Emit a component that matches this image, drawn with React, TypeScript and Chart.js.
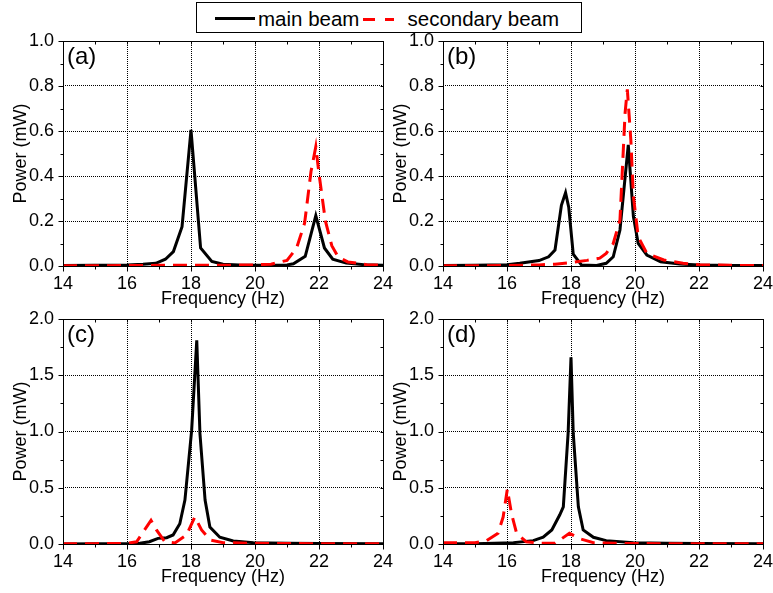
import React, { useEffect, useRef } from 'react';
import { Chart, registerables } from 'chart.js';

Chart.register(...registerables);

const FONT = "'Liberation Sans', Arial, Helvetica, sans-serif";

// ---- axis ticks ----
const freqTicks = [14, 16, 18, 20, 22, 24];
const freqMinorTicks = [15, 17, 19, 21, 23];
const powerTicksTop = [0, 0.2, 0.4, 0.6, 0.8, 1.0];
const powerTicksBottom = [0, 0.5, 1.0, 1.5, 2.0];

const seriesNames = ['main beam', 'secondary beam'];
const panelLabels = ['(a)', '(b)', '(c)', '(d)'];

// ---- panel (a) ----
const aMainFreq = [14, 15, 16, 16.5, 16.9, 17.2, 17.45, 17.72, 18.0, 18.3, 18.65, 19.0, 19.5, 20, 20.5, 21, 21.2, 21.57, 21.9, 22.17, 22.43, 22.85, 23.4, 24];
const aMainPower = [0.002, 0.003, 0.005, 0.008, 0.012, 0.03, 0.064, 0.175, 0.605, 0.08, 0.02, 0.008, 0.004, 0.003, 0.003, 0.005, 0.01, 0.043, 0.224, 0.08, 0.03, 0.013, 0.006, 0.003];
const aSecFreq = [14, 15, 16, 16.5, 17, 17.5, 18, 18.5, 19, 19.5, 20, 20.5, 21.0, 21.3, 21.55, 21.75, 21.9, 22.0, 22.2, 22.4, 22.6, 22.9, 23.5, 24];
const aSecPower = [0.001, 0.001, 0.002, 0.002, 0.003, 0.003, 0.004, 0.003, 0.003, 0.004, 0.005, 0.008, 0.025, 0.08, 0.19, 0.42, 0.53, 0.41, 0.2, 0.09, 0.04, 0.018, 0.006, 0.003];

// ---- panel (b) ----
const bMainFreq = [14, 15, 16, 16.4, 17.0, 17.3, 17.5, 17.7, 17.83, 17.93, 18.07, 18.33, 18.8, 19.1, 19.32, 19.53, 19.79, 19.95, 20.1, 20.37, 20.8, 21.4, 22, 23, 24];
const bMainPower = [0.002, 0.003, 0.006, 0.012, 0.024, 0.041, 0.071, 0.27, 0.326, 0.26, 0.053, 0.004, 0.002, 0.012, 0.041, 0.16, 0.538, 0.22, 0.1, 0.049, 0.019, 0.009, 0.004, 0.002, 0.002];
const bSecFreq = [14, 15, 16, 17, 17.5, 18.0, 18.5, 18.9, 19.1, 19.32, 19.53, 19.69, 19.76, 19.87, 19.95, 20.1, 20.37, 20.9, 21.5, 22, 23, 24];
const bSecPower = [0.001, 0.001, 0.002, 0.005, 0.008, 0.015, 0.025, 0.035, 0.056, 0.1, 0.204, 0.68, 0.785, 0.56, 0.31, 0.13, 0.056, 0.027, 0.012, 0.006, 0.003, 0.002];

// ---- panel (c) ----
const cMainFreq = [14, 15, 16, 16.4, 16.7, 16.97, 17.24, 17.44, 17.65, 17.81, 18.02, 18.18, 18.28, 18.44, 18.59, 18.9, 19.32, 19.95, 21, 22, 24];
const cMainPower = [0.001, 0.002, 0.003, 0.006, 0.02, 0.05, 0.056, 0.08, 0.18, 0.39, 1.01, 1.81, 0.98, 0.39, 0.15, 0.06, 0.027, 0.012, 0.006, 0.004, 0.002];
const cSecFreq = [14, 15, 16, 16.3, 16.75, 16.92, 17.18, 17.5, 17.86, 18.12, 18.33, 18.6, 19.0, 20, 22, 24];
const cSecPower = [0.002, 0.003, 0.006, 0.02, 0.21, 0.125, 0.02, 0.01, 0.08, 0.24, 0.125, 0.036, 0.012, 0.006, 0.003, 0.002];

// ---- panel (d) ----
const dMainFreq = [14, 15, 16.2, 16.82, 17.13, 17.4, 17.65, 17.76, 17.91, 18.0, 18.07, 18.23, 18.38, 18.7, 19.1, 19.95, 21, 22, 24];
const dMainPower = [0.002, 0.003, 0.012, 0.03, 0.06, 0.125, 0.26, 0.33, 0.985, 1.66, 0.985, 0.33, 0.125, 0.06, 0.03, 0.012, 0.006, 0.004, 0.002];
const dSecFreq = [14, 15, 15.36, 15.72, 15.88, 16.01, 16.14, 16.3, 16.6, 17.0, 17.5, 17.95, 18.3, 18.7, 19.5, 20, 22, 24];
const dSecPower = [0.01, 0.012, 0.03, 0.095, 0.24, 0.487, 0.27, 0.095, 0.02, 0.008, 0.006, 0.095, 0.045, 0.012, 0.006, 0.004, 0.002, 0.002];

type PanelProps = {
  left: number;
  top: number;
  width: number;
  label: string;
  mainF: number[];
  mainP: number[];
  secF: number[];
  secP: number[];
  yTicks: number[];
  padRight: number;
};

const CANVAS_H = 283;

function Panel({ left, top, width, label, mainF, mainP, secF, secP, yTicks, padRight }: PanelProps) {
  const ref = useRef<HTMLCanvasElement>(null);
  useEffect(() => {
    const yMinor: number[] = [];
    for (let i = 0; i < yTicks.length - 1; i++) yMinor.push((yTicks[i] + yTicks[i + 1]) / 2);

    const framePlugin = {
      id: 'panelFrame',
      afterDraw(chart: any) {
        const { ctx, chartArea } = chart;
        const xs = chart.scales.x;
        const ys = chart.scales.y;
        const l = Math.round(chartArea.left) + 0.5;
        const r = Math.round(chartArea.right) + 0.5;
        const t = Math.round(chartArea.top) + 0.5;
        const b = Math.round(chartArea.bottom) + 0.5;
        ctx.save();
        ctx.strokeStyle = '#000';
        ctx.lineWidth = 1;
        ctx.setLineDash([]);
        ctx.strokeRect(l, t, r - l, b - t);
        ctx.beginPath();
        const xTick = (v: number, len: number) => {
          const px = Math.round(xs.getPixelForValue(v)) + 0.5;
          ctx.moveTo(px, b); ctx.lineTo(px, b + len);
          ctx.moveTo(px, t); ctx.lineTo(px, t + Math.min(len, 3));
        };
        const yTick = (v: number, len: number) => {
          const py = Math.round(ys.getPixelForValue(v)) + 0.5;
          ctx.moveTo(l, py); ctx.lineTo(l - len, py);
          ctx.moveTo(r, py); ctx.lineTo(r - Math.min(len, 3), py);
        };
        freqTicks.forEach((v) => xTick(v, 5));
        freqMinorTicks.forEach((v) => xTick(v, 3));
        yTicks.forEach((v) => yTick(v, 5));
        yMinor.forEach((v) => yTick(v, 3));
        ctx.stroke();
        ctx.fillStyle = '#000';
        ctx.font = `24px ${FONT}`;
        ctx.textBaseline = 'top';
        ctx.textAlign = 'left';
        ctx.fillText(label, chartArea.left + 4, chartArea.top + 4);
        ctx.restore();
      },
    };

    const chart = new Chart(ref.current as HTMLCanvasElement, {
      type: 'line',
      data: {
        datasets: [
          {
            label: seriesNames[1],
            data: secF.map((f, i) => ({ x: f, y: secP[i] })),
            borderColor: '#ff0000',
            borderWidth: 3,
            borderDash: [14, 8],
            pointRadius: 0,
            tension: 0,
            fill: false,
          },
          {
            label: seriesNames[0],
            data: mainF.map((f, i) => ({ x: f, y: mainP[i] })),
            borderColor: '#000000',
            borderWidth: 3,
            pointRadius: 0,
            tension: 0,
            fill: false,
          },
        ],
      },
      options: {
        animation: false,
        responsive: false,
        maintainAspectRatio: false,
        layout: { padding: { top: 11, right: padRight, left: 0, bottom: 0 } },
        plugins: { legend: { display: false }, tooltip: { enabled: false } },
        scales: {
          x: {
            type: 'linear',
            min: 14,
            max: 24,
            afterBuildTicks: (s: any) => { s.ticks = freqTicks.map((v) => ({ value: v })); },
            afterFit: (s: any) => { s.height = 47; s.paddingLeft = 0; s.paddingRight = 0; },
            grid: { color: '#000', lineWidth: 1, drawTicks: false },
            border: { display: false, dash: [1, 1] },
            ticks: {
              color: '#000',
              font: { family: FONT, size: 18 },
              padding: 7,
              maxRotation: 0,
              autoSkip: false,
              callback: (v: any) => String(v),
            },
            title: {
              display: true,
              text: 'Frequency (Hz)',
              color: '#000',
              font: { family: FONT, size: 18 },
              padding: { top: 0, bottom: 3 },
            },
          },
          y: {
            type: 'linear',
            min: 0,
            max: yTicks[yTicks.length - 1],
            afterBuildTicks: (s: any) => { s.ticks = yTicks.map((v) => ({ value: v })); },
            afterFit: (s: any) => { s.width = 63; s.paddingTop = 0; s.paddingBottom = 0; },
            grid: { color: '#000', lineWidth: 1, drawTicks: false },
            border: { display: false, dash: [1, 1] },
            ticks: {
              color: '#000',
              font: { family: FONT, size: 18 },
              padding: 9,
              autoSkip: false,
              callback: (v: any) => Number(v).toFixed(1),
            },
            title: {
              display: true,
              text: 'Power (mW)',
              color: '#000',
              font: { family: FONT, size: 18 },
              padding: { top: 10.5, bottom: 0 },
            },
          },
        },
      },
      plugins: [framePlugin],
    } as any);
    return () => chart.destroy();
  }, []);
  return (
    <canvas
      ref={ref}
      width={width}
      height={CANVAS_H}
      style={{ position: 'absolute', left, top, width, height: CANVAS_H }}
    />
  );
}

export default function App() {
  return (
    <div style={{ position: 'absolute', left: 0, top: 0, width: 773, height: 593, background: '#fff', overflow: 'hidden' }}>
      <Panel left={0} top={30} width={395} padRight={12} label={panelLabels[0]} mainF={aMainFreq} mainP={aMainPower} secF={aSecFreq} secP={aSecPower} yTicks={powerTicksTop} />
      <Panel left={380} top={30} width={393} padRight={10} label={panelLabels[1]} mainF={bMainFreq} mainP={bMainPower} secF={bSecFreq} secP={bSecPower} yTicks={powerTicksTop} />
      <Panel left={0} top={308} width={395} padRight={12} label={panelLabels[2]} mainF={cMainFreq} mainP={cMainPower} secF={cSecFreq} secP={cSecPower} yTicks={powerTicksBottom} />
      <Panel left={380} top={308} width={393} padRight={10} label={panelLabels[3]} mainF={dMainFreq} mainP={dMainPower} secF={dSecFreq} secP={dSecPower} yTicks={powerTicksBottom} />
      <svg style={{ position: 'absolute', left: 196, top: 2 }} width={386} height={31}>
        <rect x={0.5} y={0.5} width={385} height={30} fill="#fff" stroke="#000" strokeWidth={1} />
        <line x1={19} y1={16.5} x2={59} y2={16.5} stroke="#000" strokeWidth={3} />
        <text x={62} y={24} fontFamily={FONT} fontSize={20.5} fill="#000">{seriesNames[0]}</text>
        <line x1={167} y1={17.5} x2={198} y2={17.5} stroke="#ff0000" strokeWidth={3} strokeDasharray="12 10" />
        <text x={211.5} y={24} fontFamily={FONT} fontSize={20.5} fill="#000">{seriesNames[1]}</text>
      </svg>
    </div>
  );
}
